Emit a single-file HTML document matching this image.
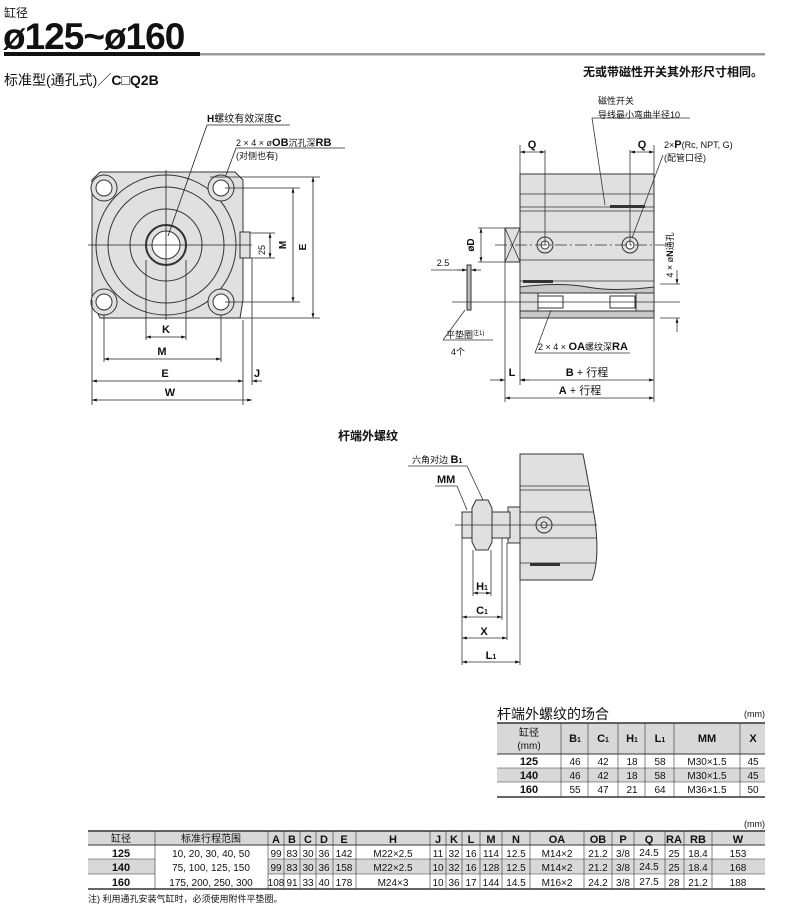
<!DOCTYPE html>
<html><head><meta charset="utf-8"><style>
body{margin:0;background:#fff;width:790px;height:910px;overflow:hidden;font-family:"Liberation Sans","Noto Sans CJK SC",sans-serif;}
svg{position:absolute;left:0;top:0}
text{font-family:"Liberation Sans","Noto Sans CJK SC",sans-serif;fill:#111}
.b{font-weight:bold}
</style></head><body>
<svg width="790" height="910" viewBox="0 0 790 910" xmlns="http://www.w3.org/2000/svg">
<defs>
<marker id="a" viewBox="0 0 10 10" refX="10" refY="5" markerWidth="6" markerHeight="6" orient="auto-start-reverse"><path d="M0,2L10,5L0,8z" fill="#111"/></marker>
</defs>
<!-- header -->
<text x="4" y="17" font-size="12">缸径</text>
<text x="3" y="49" font-size="37" class="b" style="letter-spacing:-1px">ø125~ø160</text>
<rect x="4" y="52" width="196" height="4" fill="#111"/>
<rect x="200" y="53" width="565" height="2.5" fill="#999"/>
<text x="4" y="85" font-size="14">标准型(通孔式)／<tspan class="b">C□Q2B</tspan></text>
<text x="763" y="76" font-size="12" text-anchor="end" class="b">无或带磁性开关其外形尺寸相同。</text>

<!-- left view -->
<g stroke="#333" stroke-width="1" fill="#e0e0e0">
<path d="M92,180 L92,300 L100,318 L240,318 L243,300 L243,180 L235,172 L100,172 Z"/>
<circle cx="166" cy="245" r="70" fill="#e0e0e0"/>
<circle cx="166" cy="245" r="58" fill="none"/>
<circle cx="166" cy="245" r="36" fill="none"/>
<circle cx="166" cy="245" r="20" fill="none" stroke-width="2"/>
<circle cx="166" cy="245" r="14" fill="#fff"/>
<circle cx="104" cy="188" r="13"/><circle cx="104" cy="188" r="8" fill="#fff"/>
<circle cx="221" cy="188" r="13"/><circle cx="221" cy="188" r="8" fill="#fff"/>
<circle cx="104" cy="302" r="13"/><circle cx="104" cy="302" r="8" fill="#fff"/>
<circle cx="221" cy="302" r="13"/><circle cx="221" cy="302" r="8" fill="#fff"/>
<rect x="240" y="232" width="10" height="26"/>
</g>
<g stroke="#222" stroke-width="0.8" fill="none">
<line x1="88" y1="245" x2="252" y2="245"/>
<line x1="166" y1="170" x2="166" y2="320"/>
<line x1="210" y1="177" x2="320" y2="177"/><line x1="225" y1="188" x2="300" y2="188"/>
<line x1="225" y1="302" x2="300" y2="302"/><line x1="225" y1="318" x2="320" y2="318"/>
<line x1="250" y1="233" x2="275" y2="233"/><line x1="250" y1="258" x2="275" y2="258"/>
<line x1="270" y1="233" x2="270" y2="258" marker-start="url(#a)" marker-end="url(#a)"/>
<line x1="293" y1="188" x2="293" y2="302" marker-start="url(#a)" marker-end="url(#a)"/>
<line x1="313" y1="177" x2="313" y2="318" marker-start="url(#a)" marker-end="url(#a)"/>
<line x1="146" y1="260" x2="146" y2="340"/><line x1="186" y1="260" x2="186" y2="340"/>
<line x1="146" y1="337" x2="186" y2="337" marker-start="url(#a)" marker-end="url(#a)"/>
<line x1="104" y1="315" x2="104" y2="362"/><line x1="221" y1="315" x2="221" y2="362"/>
<line x1="104" y1="359" x2="221" y2="359" marker-start="url(#a)" marker-end="url(#a)"/>
<line x1="92" y1="300" x2="92" y2="405"/><line x1="243" y1="320" x2="243" y2="405"/><line x1="252" y1="258" x2="252" y2="385"/>
<line x1="92" y1="381" x2="243" y2="381" marker-start="url(#a)" marker-end="url(#a)"/>
<line x1="262" y1="381" x2="252" y2="381" marker-end="url(#a)"/>
<line x1="92" y1="400" x2="252" y2="400" marker-start="url(#a)" marker-end="url(#a)"/>
<line x1="207" y1="125" x2="168" y2="236"/><line x1="207" y1="125" x2="290" y2="125"/>
<line x1="236" y1="148" x2="226" y2="175"/><line x1="236" y1="148" x2="345" y2="148"/>
</g>
<text x="207" y="122" font-size="10"><tspan class="b">H</tspan>螺纹有效深度<tspan class="b">C</tspan></text>
<text x="236" y="146" font-size="9">2 × 4 × ø<tspan class="b" font-size="11">OB</tspan>沉孔深<tspan class="b" font-size="11">RB</tspan></text>
<text x="236" y="159" font-size="9">(对侧也有)</text>
<text x="262" y="250" font-size="9" transform="rotate(-90 262 250)" text-anchor="middle" dy="3">25</text>
<text x="286" y="245" font-size="10" class="b" transform="rotate(-90 286 245)" text-anchor="middle">M</text>
<text x="306" y="247" font-size="10" class="b" transform="rotate(-90 306 247)" text-anchor="middle">E</text>
<text x="166" y="333" font-size="11" class="b" text-anchor="middle">K</text>
<text x="162" y="355" font-size="11" class="b" text-anchor="middle">M</text>
<text x="165" y="377" font-size="11" class="b" text-anchor="middle">E</text>
<text x="257" y="377" font-size="11" class="b" text-anchor="middle">J</text>
<text x="170" y="396" font-size="11" class="b" text-anchor="middle">W</text>

<!-- right view -->
<g stroke="#333" stroke-width="1">
<rect x="520" y="174" width="134" height="144" fill="#e0e0e0"/>
<rect x="505" y="228" width="15" height="34" fill="#e0e0e0"/>
<path d="M520,287 Q560,282 587,287 T654,287 L654,318 L520,318Z" fill="#c8c8c8"/>
<rect x="520" y="293" width="134" height="18" fill="#fff"/>
<rect x="520" y="293" width="18" height="18" fill="#e0e0e0"/><rect x="636" y="293" width="18" height="18" fill="#e0e0e0"/>
<rect x="538" y="296" width="25" height="12" fill="#fff"/><rect x="610" y="296" width="25" height="12" fill="#fff"/>
<circle cx="545" cy="245" r="8" fill="#e0e0e0"/><circle cx="545" cy="245" r="4" fill="#fff"/>
<circle cx="630" cy="245" r="8" fill="#e0e0e0"/><circle cx="630" cy="245" r="4" fill="#fff"/>
<rect x="467" y="265" width="4" height="45" fill="#bbb"/>
</g>
<g stroke="#333" stroke-width="0.8" fill="none">
<line x1="520" y1="194" x2="654" y2="194"/><line x1="520" y1="207" x2="654" y2="207"/><line x1="520" y1="211" x2="654" y2="211"/>
<line x1="520" y1="232" x2="654" y2="232"/><line x1="520" y1="260" x2="654" y2="260"/><line x1="520" y1="281" x2="654" y2="281"/>
<line x1="505" y1="228" x2="520" y2="262"/><line x1="520" y1="228" x2="505" y2="262"/>
<line x1="495" y1="245" x2="665" y2="245" stroke-dasharray="12,3,2,3"/>
<line x1="452" y1="302" x2="680" y2="302"/>
<line x1="545" y1="150" x2="545" y2="245"/><line x1="630" y1="150" x2="630" y2="245"/>
<line x1="520" y1="145" x2="520" y2="174"/><line x1="654" y1="145" x2="654" y2="174"/>
<line x1="520" y1="152" x2="545" y2="152" marker-start="url(#a)" marker-end="url(#a)"/>
<line x1="630" y1="152" x2="654" y2="152" marker-start="url(#a)" marker-end="url(#a)"/>
<line x1="478" y1="228" x2="505" y2="228"/><line x1="478" y1="262" x2="505" y2="262"/>
<line x1="481" y1="228" x2="481" y2="262" marker-start="url(#a)" marker-end="url(#a)"/>
<line x1="431" y1="270" x2="467" y2="270"/><line x1="481" y1="270" x2="471" y2="270" marker-end="url(#a)"/><line x1="457" y1="270" x2="467" y2="270" marker-end="url(#a)"/>
<line x1="660" y1="284" x2="680" y2="284"/><line x1="660" y1="318" x2="680" y2="318"/>
<line x1="677" y1="270" x2="677" y2="284" marker-end="url(#a)"/><line x1="677" y1="332" x2="677" y2="318" marker-end="url(#a)"/>
<line x1="505" y1="262" x2="505" y2="402"/><line x1="520" y1="318" x2="520" y2="385"/><line x1="654" y1="318" x2="654" y2="402"/>
<line x1="490" y1="380" x2="505" y2="380" marker-end="url(#a)"/><line x1="530" y1="380" x2="520" y2="380" marker-end="url(#a)"/>
<line x1="520" y1="380" x2="654" y2="380" marker-start="url(#a)" marker-end="url(#a)"/>
<line x1="505" y1="398" x2="654" y2="398" marker-start="url(#a)" marker-end="url(#a)"/>
<line x1="592" y1="118" x2="605" y2="205"/><line x1="592" y1="118" x2="690" y2="118"/>
<line x1="663" y1="155" x2="632" y2="238"/>
<line x1="551" y1="310" x2="535" y2="353"/><line x1="535" y1="353" x2="630" y2="353"/>
<line x1="465" y1="310" x2="443" y2="340"/><line x1="443" y1="340" x2="493" y2="340"/>
</g>
<rect x="610" y="205" width="35" height="3" fill="#333"/>
<rect x="523" y="280" width="30" height="3" fill="#333"/>
<text x="598" y="104" font-size="9">磁性开关</text>
<text x="598" y="118" font-size="9">导线最小弯曲半径10</text>
<text x="664" y="148" font-size="9">2×<tspan class="b" font-size="11">P</tspan>(Rc, NPT, G)</text>
<text x="664" y="161" font-size="9">(配管口径)</text>
<text x="532" y="148" font-size="11" class="b" text-anchor="middle">Q</text>
<text x="642" y="148" font-size="11" class="b" text-anchor="middle">Q</text>
<text x="474" y="245" font-size="10" class="b" transform="rotate(-90 474 245)" text-anchor="middle">øD</text>
<text x="443" y="266" font-size="9" text-anchor="middle">2.5</text>
<text x="673" y="255" font-size="9" transform="rotate(-90 673 255)" text-anchor="middle">4 × ø<tspan class="b">N</tspan>通孔</text>
<text x="446" y="338" font-size="9">平垫圈<tspan font-size="6" dy="-3">注1)</tspan></text>
<text x="451" y="355" font-size="9">4个</text>
<text x="538" y="350" font-size="9">2 × 4 × <tspan class="b" font-size="11">OA</tspan>螺纹深<tspan class="b" font-size="11">RA</tspan></text>
<text x="512" y="376" font-size="11" class="b" text-anchor="middle">L</text>
<text x="587" y="376" font-size="11" text-anchor="middle"><tspan class="b">B</tspan> + 行程</text>
<text x="580" y="394" font-size="11" text-anchor="middle"><tspan class="b">A</tspan> + 行程</text>

<!-- rod end view -->
<text x="338" y="440" font-size="12" class="b">杆端外螺纹</text>
<g stroke="#333" stroke-width="1">
<path d="M520,454 L583,454 Q590,490 595,520 Q600,560 592,580 L520,580 Z" fill="#e0e0e0"/>
<rect x="508" y="507" width="12" height="36" fill="#e0e0e0"/>
<rect x="462" y="512" width="48" height="26" fill="#e0e0e0"/>
<path d="M476,500 L488,500 L492,508 L492,542 L488,550 L476,550 L472,542 L472,508Z" fill="#e0e0e0"/>
<circle cx="544" cy="525" r="8" fill="#e0e0e0"/><circle cx="544" cy="525" r="3" fill="#fff"/>
</g>
<g stroke="#333" stroke-width="0.8" fill="none">
<line x1="520" y1="486" x2="588" y2="486"/><line x1="520" y1="490" x2="590" y2="490"/>
<line x1="520" y1="512" x2="594" y2="512"/><line x1="520" y1="538" x2="596" y2="538"/>
<line x1="520" y1="563" x2="596" y2="563"/>
<line x1="455" y1="525" x2="597" y2="525"/>
<line x1="462" y1="538" x2="462" y2="665"/><line x1="473" y1="550" x2="473" y2="596"/><line x1="491" y1="550" x2="491" y2="596"/>
<line x1="502" y1="538" x2="502" y2="620"/><line x1="507" y1="543" x2="507" y2="640"/><line x1="520" y1="580" x2="520" y2="665"/>
<line x1="473" y1="593" x2="491" y2="593" marker-start="url(#a)" marker-end="url(#a)"/>
<line x1="462" y1="617" x2="502" y2="617" marker-start="url(#a)" marker-end="url(#a)"/>
<line x1="462" y1="638" x2="507" y2="638" marker-start="url(#a)" marker-end="url(#a)"/>
<line x1="462" y1="662" x2="520" y2="662" marker-start="url(#a)" marker-end="url(#a)"/>
<line x1="408" y1="466" x2="467" y2="466"/><line x1="467" y1="466" x2="483" y2="500"/>
<line x1="435" y1="486" x2="457" y2="486"/><line x1="457" y1="486" x2="467" y2="510"/>
</g>
<rect x="530" y="563" width="30" height="3" fill="#333"/>
<text x="412" y="463" font-size="9">六角对边 <tspan class="b" font-size="11">B<tspan font-size="7">1</tspan></tspan></text>
<text x="437" y="483" font-size="11" class="b">MM</text>
<text x="482" y="590" font-size="11" class="b" text-anchor="middle">H<tspan font-size="7">1</tspan></text>
<text x="482" y="614" font-size="11" class="b" text-anchor="middle">C<tspan font-size="7">1</tspan></text>
<text x="484" y="635" font-size="11" class="b" text-anchor="middle">X</text>
<text x="491" y="659" font-size="11" class="b" text-anchor="middle">L<tspan font-size="7">1</tspan></text>

<!-- small table -->
<text x="497" y="719" font-size="14">杆端外螺纹的场合</text>
<text x="765" y="717" font-size="9" text-anchor="end">(mm)</text>
<rect x="497" y="723" width="268" height="31" fill="#d8d8d8"/>
<rect x="497" y="768" width="268" height="14" fill="#d8d8d8"/>
<g stroke="#333" fill="none">
<line x1="497" y1="723" x2="765" y2="723" stroke-width="1.5"/>
<line x1="497" y1="754" x2="765" y2="754" stroke-width="1"/>
<line x1="497" y1="768" x2="765" y2="768" stroke-width="0.6"/>
<line x1="497" y1="782" x2="765" y2="782" stroke-width="0.6"/>
<line x1="497" y1="797" x2="765" y2="797" stroke-width="1.5"/>
<g stroke-width="0.6"><line x1="561" y1="723" x2="561" y2="797"/><line x1="588" y1="723" x2="588" y2="797"/><line x1="618" y1="723" x2="618" y2="797"/><line x1="645" y1="723" x2="645" y2="797"/><line x1="674" y1="723" x2="674" y2="797"/><line x1="740" y1="723" x2="740" y2="797"/></g>
</g>
<g font-size="11" text-anchor="middle">
<text x="529" y="736" font-size="10">缸径</text><text x="529" y="749" font-size="10">(mm)</text>
<text x="575" y="742" class="b">B<tspan font-size="7">1</tspan></text><text x="603" y="742" class="b">C<tspan font-size="7">1</tspan></text><text x="632" y="742" class="b">H<tspan font-size="7">1</tspan></text><text x="660" y="742" class="b">L<tspan font-size="7">1</tspan></text><text x="707" y="742" class="b">MM</text><text x="753" y="742" class="b">X</text>
<g font-size="10"><text x="529" y="765" class="b" font-size="11">125</text><text x="575" y="765">46</text><text x="603" y="765">42</text><text x="632" y="765">18</text><text x="660" y="765">58</text><text x="707" y="765">M30×1.5</text><text x="753" y="765">45</text>
<text x="529" y="779" class="b" font-size="11">140</text><text x="575" y="779">46</text><text x="603" y="779">42</text><text x="632" y="779">18</text><text x="660" y="779">58</text><text x="707" y="779">M30×1.5</text><text x="753" y="779">45</text>
<text x="529" y="793" class="b" font-size="11">160</text><text x="575" y="793">55</text><text x="603" y="793">47</text><text x="632" y="793">21</text><text x="660" y="793">64</text><text x="707" y="793">M36×1.5</text><text x="753" y="793">50</text></g>
</g>

<!-- main table -->
<text x="765" y="827" font-size="9" text-anchor="end">(mm)</text>
<rect x="88" y="831" width="677" height="14" fill="#d8d8d8"/>
<rect x="88" y="859" width="67" height="15" fill="#d8d8d8"/>
<rect x="268" y="859" width="497" height="15" fill="#d8d8d8"/>
<g stroke="#333" fill="none">
<line x1="88" y1="831" x2="765" y2="831" stroke-width="1.5"/>
<line x1="88" y1="845" x2="765" y2="845" stroke-width="1"/>
<line x1="88" y1="859" x2="155" y2="859" stroke-width="0.6"/><line x1="268" y1="859" x2="765" y2="859" stroke-width="0.6"/>
<line x1="88" y1="874" x2="155" y2="874" stroke-width="0.6"/><line x1="268" y1="874" x2="765" y2="874" stroke-width="0.6"/>
<line x1="88" y1="889" x2="765" y2="889" stroke-width="1.5"/>
<g stroke-width="0.6">
<line x1="155" y1="831" x2="155" y2="889"/><line x1="268" y1="831" x2="268" y2="889"/><line x1="284" y1="831" x2="284" y2="889"/><line x1="300" y1="831" x2="300" y2="889"/><line x1="316" y1="831" x2="316" y2="889"/><line x1="333" y1="831" x2="333" y2="889"/><line x1="356" y1="831" x2="356" y2="889"/><line x1="430" y1="831" x2="430" y2="889"/><line x1="446" y1="831" x2="446" y2="889"/><line x1="462" y1="831" x2="462" y2="889"/><line x1="480" y1="831" x2="480" y2="889"/><line x1="502" y1="831" x2="502" y2="889"/><line x1="530" y1="831" x2="530" y2="889"/><line x1="584" y1="831" x2="584" y2="889"/><line x1="612" y1="831" x2="612" y2="889"/><line x1="634" y1="831" x2="634" y2="889"/><line x1="665" y1="831" x2="665" y2="889"/><line x1="684" y1="831" x2="684" y2="889"/><line x1="712" y1="831" x2="712" y2="889"/></g>
</g>
<g font-size="10" text-anchor="middle">
<text x="121" y="842">缸径</text><text x="211" y="842">标准行程范围</text>
<g class="b" font-size="11"><text x="276" y="843">A</text><text x="292" y="843">B</text><text x="308" y="843">C</text><text x="324" y="843">D</text><text x="344" y="843">E</text><text x="393" y="843">H</text><text x="438" y="843">J</text><text x="454" y="843">K</text><text x="471" y="843">L</text><text x="491" y="843">M</text><text x="516" y="843">N</text><text x="557" y="843">OA</text><text x="598" y="843">OB</text><text x="623" y="843">P</text><text x="649" y="843">Q</text><text x="674" y="843">RA</text><text x="698" y="843">RB</text><text x="738" y="843">W</text>
<text x="121" y="857">125</text><text x="121" y="871">140</text><text x="121" y="886">160</text></g>
<text x="211" y="857">10, 20, 30, 40, 50</text><text x="211" y="871">75, 100, 125, 150</text><text x="211" y="886">175, 200, 250, 300</text>
<text x="276" y="857">99</text><text x="292" y="857">83</text><text x="308" y="857">30</text><text x="324" y="857">36</text><text x="344" y="857">142</text><text x="393" y="857">M22×2.5</text><text x="438" y="857">11</text><text x="454" y="857">32</text><text x="471" y="857">16</text><text x="491" y="857">114</text><text x="516" y="857">12.5</text><text x="557" y="857">M14×2</text><text x="598" y="857">21.2</text><text x="623" y="857">3/8</text><text x="649" y="856">24.5</text><text x="674" y="857">25</text><text x="698" y="857">18.4</text><text x="738" y="857">153</text>
<text x="276" y="871">99</text><text x="292" y="871">83</text><text x="308" y="871">30</text><text x="324" y="871">36</text><text x="344" y="871">158</text><text x="393" y="871">M22×2.5</text><text x="438" y="871">10</text><text x="454" y="871">32</text><text x="471" y="871">16</text><text x="491" y="871">128</text><text x="516" y="871">12.5</text><text x="557" y="871">M14×2</text><text x="598" y="871">21.2</text><text x="623" y="871">3/8</text><text x="649" y="870">24.5</text><text x="674" y="871">25</text><text x="698" y="871">18.4</text><text x="738" y="871">168</text>
<text x="276" y="886">108</text><text x="292" y="886">91</text><text x="308" y="886">33</text><text x="324" y="886">40</text><text x="344" y="886">178</text><text x="393" y="886">M24×3</text><text x="438" y="886">10</text><text x="454" y="886">36</text><text x="471" y="886">17</text><text x="491" y="886">144</text><text x="516" y="886">14.5</text><text x="557" y="886">M16×2</text><text x="598" y="886">24.2</text><text x="623" y="886">3/8</text><text x="649" y="885">27.5</text><text x="674" y="886">28</text><text x="698" y="886">21.2</text><text x="738" y="886">188</text>
</g>
<text x="88" y="902" font-size="9">注) 利用通孔安装气缸时，必须使用附件平垫圈。</text>
</svg>
</body></html>
